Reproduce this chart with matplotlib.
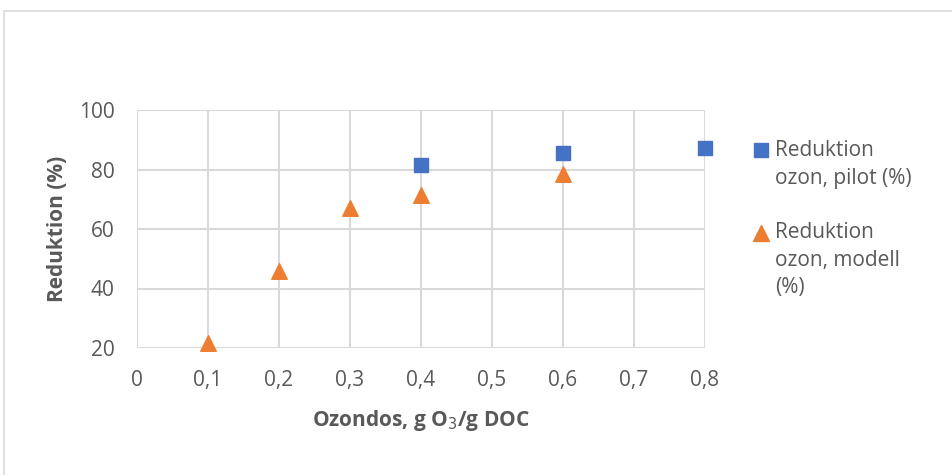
import matplotlib.pyplot as plt
from matplotlib.lines import Line2D
from matplotlib.patches import Rectangle

plt.rcParams['font.family'] = ['Open Sans', 'DejaVu Sans']

# ozone dose (g O3 / g DOC) and reduction (%)
dos_pilot = [0.4, 0.6, 0.8]
red_pilot = [81.5, 85.5, 87.2]
dos_modell = [0.1, 0.2, 0.3, 0.4, 0.6]
red_modell = [21.7, 45.9, 67.0, 71.4, 78.5]
labels = ['Reduktion\nozon, pilot (%)', 'Reduktion\nozon, modell\n(%)']

grey = '#595959'
grid = '#d9d9d9'
blue = '#4472c4'
orange = '#ed7d31'

W, H = 952, 475
fig = plt.figure(figsize=(W / 100, H / 100), dpi=100)
# chart border
fig.patches.append(Rectangle((4 / W, -0.1), 1.0, 1 - 11 / H + 0.1, transform=fig.transFigure,
                             fill=False, edgecolor=grid, linewidth=1.2))

ax = fig.add_axes([137 / W, 1 - 348 / H, (705 - 137) / W, (348 - 110) / H])
ax.scatter(dos_pilot, red_pilot, marker='s', s=115, color=blue, zorder=3, clip_on=False)
ax.scatter(dos_modell, red_modell, marker='^', s=125, color=orange, zorder=3, clip_on=False)

ax.set_xlim(0, 0.8)
ax.set_ylim(20, 100)
ax.set_xticks([0, 0.1, 0.2, 0.3, 0.4, 0.5, 0.6, 0.7, 0.8])
ax.set_xticklabels(['0', '0,1', '0,2', '0,3', '0,4', '0,5', '0,6', '0,7', '0,8'])
ax.set_yticks([20, 40, 60, 80, 100])
ax.grid(True, color=grid, linewidth=1.5, zorder=0)
ax.set_axisbelow(True)
for s in ax.spines.values():
    s.set_visible(False)
ax.tick_params(length=0, labelsize=15, colors=grey)
ax.tick_params(axis='x', pad=16)
ax.tick_params(axis='y', pad=16)

ax.set_xlabel('Ozondos, g O$_3$/g DOC', fontsize=15, fontweight='bold', color=grey, labelpad=12)
ax.set_ylabel('Reduktion (%)', fontsize=15, fontweight='bold', color=grey, labelpad=8)

# legend on the right, marker next to the first line of each entry
entries = [('s', blue, 115, 150, 140), ('^', orange, 125, 233, 222)]
for (m, c, sz, ym, ytop), lab in zip(entries, labels):
    fig.add_artist(Line2D([761 / W], [1 - ym / H], marker=m, markersize=sz ** 0.5,
                          color=c, linestyle='none', transform=fig.transFigure))
    fig.text(775 / W, 1 - ytop / H, lab, fontsize=15, color=grey, va='top',
             ha='left', linespacing=1.42)

fig.savefig('out.png', dpi=100)
